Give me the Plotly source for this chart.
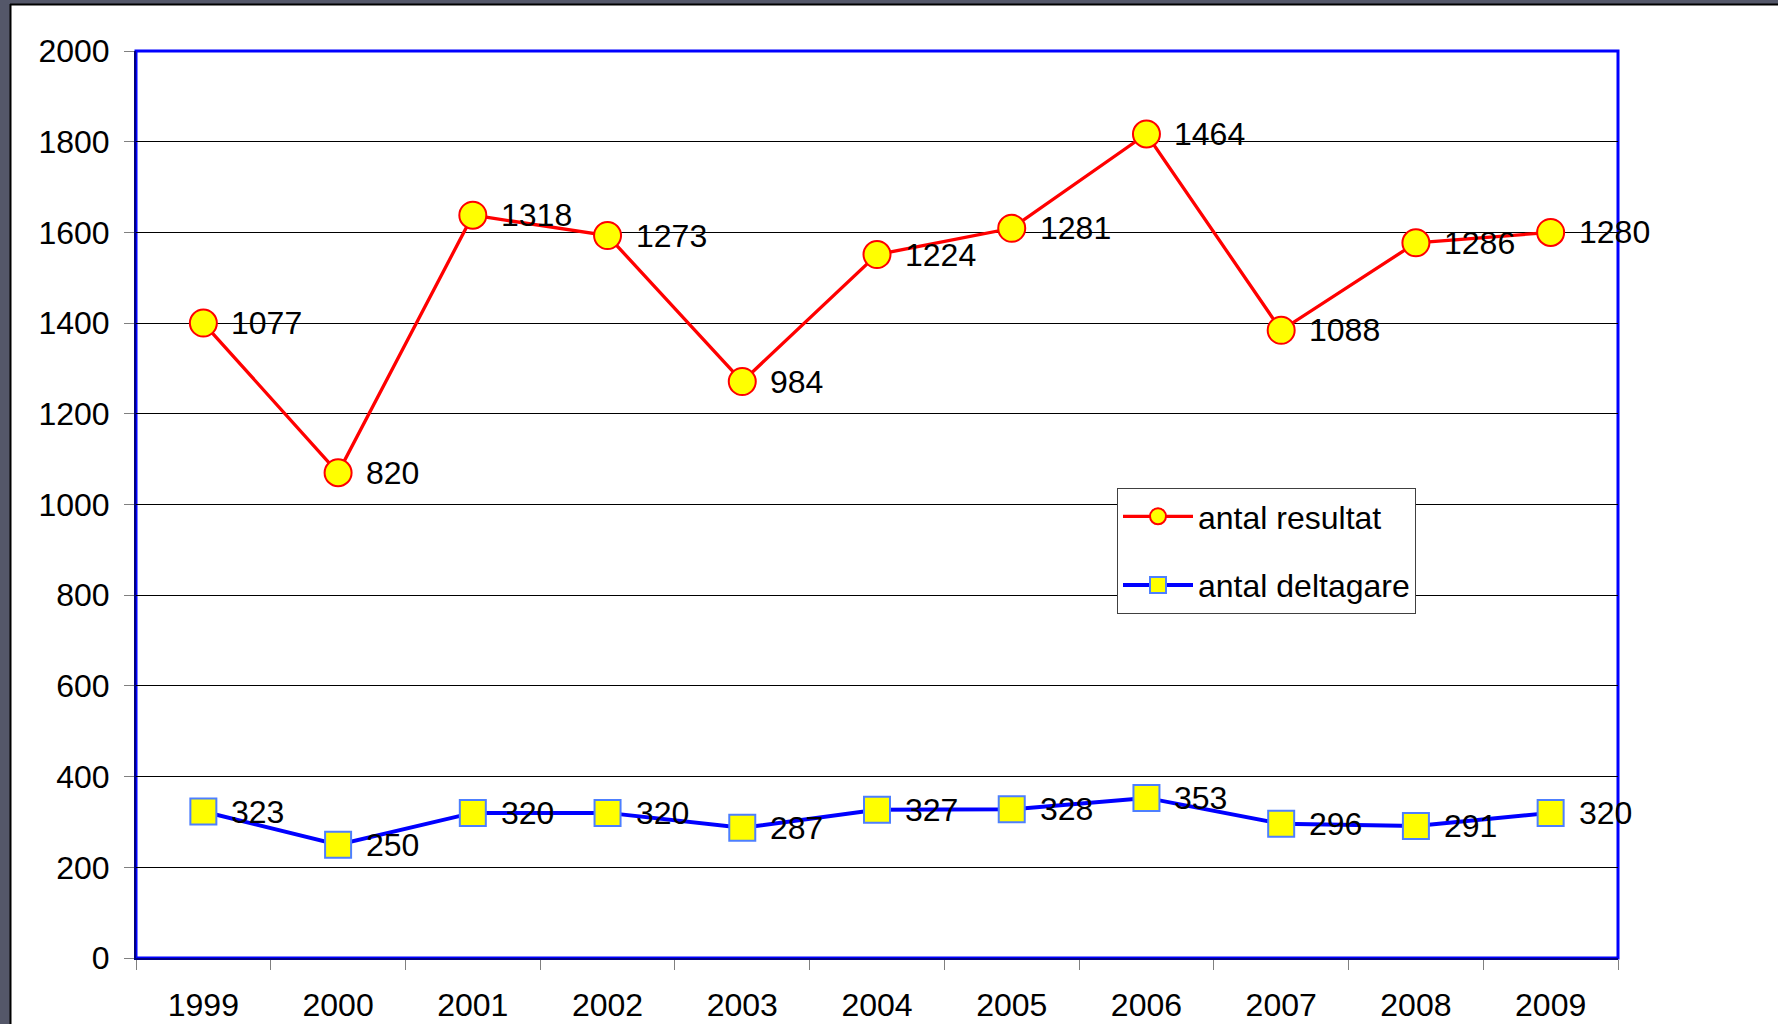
import numpy as np
import plotly.graph_objects as go

years = ["1999", "2000", "2001", "2002", "2003", "2004", "2005", "2006", "2007", "2008", "2009"]
antal_resultat = [1077, 820, 1318, 1273, 984, 1224, 1281, 1464, 1088, 1286, 1280]
antal_deltagare = [323, 250, 320, 320, 287, 327, 328, 353, 296, 291, 320]
y_ticks = [0, 200, 400, 600, 800, 1000, 1200, 1400, 1600, 1800, 2000]

# Excel "stacked line": the resultat line is drawn on top of deltagare
stacked_resultat = np.array(antal_resultat) + np.array(antal_deltagare)

FONT = "Liberation Sans, Arial, sans-serif"
FS = 32
W, H = 1778, 1024
ML, MR, MT, MB = 136, 160, 51, 66
PW, PH = W - ML - MR, H - MT - MB

fig = go.Figure()
fig.add_trace(go.Scatter(
    x=years, y=stacked_resultat, name="antal resultat", legendgroup="a",
    mode="lines+markers",
    line=dict(color="#FF0000", width=3.3),
    marker=dict(symbol="circle", size=27, color="#FFFF00", line=dict(color="#FF0000", width=2)),
    cliponaxis=False,
))
fig.add_trace(go.Scatter(
    x=years, y=antal_deltagare, name="antal deltagare", legendgroup="b",
    mode="lines+markers",
    line=dict(color="#0000FF", width=4),
    marker=dict(symbol="square", size=26, color="#FFFF00", line=dict(color="#4D7FFF", width=2)),
    cliponaxis=False,
))

# value labels (category axis -> annotations use category index)
annotations = []
for ys, labels in [(stacked_resultat, antal_resultat), (antal_deltagare, antal_deltagare)]:
    for i, (yv, lab) in enumerate(zip(ys, labels)):
        annotations.append(dict(
            x=i, y=float(yv), xref="x", yref="y", text=str(lab), showarrow=False,
            xanchor="left", yanchor="middle", xshift=26, yshift=0,
            font=dict(family=FONT, size=FS, color="#000000"),
        ))

shapes = [
    # plot frame (top/right blue)
    dict(type="rect", xref="paper", yref="paper", x0=0, x1=1, y0=0, y1=1,
         line=dict(color="#0000FF", width=3), layer="between"),
    # dark slide border left and top
    dict(type="rect", xref="paper", yref="paper",
         x0=-ML / PW, x1=(-ML + 10) / PW, y0=-MB / PH, y1=1 + MT / PH,
         fillcolor="#545769", line=dict(width=0), layer="below"),
    dict(type="rect", xref="paper", yref="paper",
         x0=-ML / PW, x1=1 + MR / PW, y0=1 + (MT - 4) / PH, y1=1 + MT / PH,
         fillcolor="#545769", line=dict(width=0), layer="below"),
    dict(type="line", xref="paper", yref="paper",
         x0=(-ML + 10.5) / PW, x1=(-ML + 10.5) / PW, y0=-MB / PH, y1=1 + (MT - 4) / PH,
         line=dict(color="#000000", width=2)),
    dict(type="line", xref="paper", yref="paper",
         x0=(-ML + 10) / PW, x1=1 + MR / PW, y0=1 + (MT - 4.5) / PH, y1=1 + (MT - 4.5) / PH,
         line=dict(color="#000000", width=2)),
]

fig.update_layout(
    width=W, height=H,
    margin=dict(l=ML, r=MR, t=MT, b=MB, pad=0, autoexpand=False),
    paper_bgcolor="#FFFFFF", plot_bgcolor="#FFFFFF",
    font=dict(family=FONT, size=FS, color="#000000"),
    showlegend=True,
    legend=dict(
        x=(1117 - ML) / PW, y=1 - (488 - MT) / PH, xanchor="left", yanchor="top",
        bgcolor="#FFFFFF", bordercolor="#404040", borderwidth=1,
        font=dict(family=FONT, size=FS, color="#000000"),
        tracegroupgap=24, itemwidth=70, traceorder="grouped",
    ),
    shapes=shapes,
    annotations=annotations,
    xaxis=dict(
        type="category", range=[-0.5, 10.5], tickson="boundaries",
        showgrid=False, showline=True, linecolor="#000080", linewidth=2,
        ticks="outside", ticklen=10, tickcolor="#808080", tickwidth=1,
        tickfont=dict(family=FONT, size=FS, color="#000000"),
        ticklabelstandoff=18, zeroline=False, fixedrange=True, automargin=False,
    ),
    yaxis=dict(
        range=[0, 2000], tickvals=y_ticks,
        showgrid=True, gridcolor="#000000", gridwidth=1,
        showline=True, linecolor="#000080", linewidth=2,
        ticks="outside", ticklen=10, tickcolor="#808080", tickwidth=1,
        tickfont=dict(family=FONT, size=FS, color="#000000"),
        ticklabelstandoff=8, zeroline=False, fixedrange=True, automargin=False,
    ),
)

fig.write_html(
    "out.html",
    config={"displayModeBar": False},
    post_script="document.body.style.margin='0';document.body.style.overflow='hidden';",
)
